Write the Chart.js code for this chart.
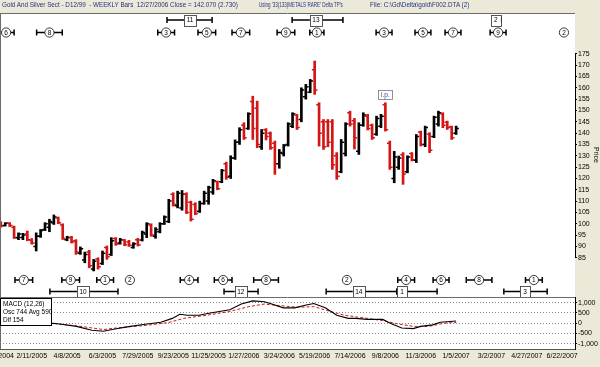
<!DOCTYPE html>
<html>
<head>
<meta charset="utf-8">
<script src="https://cdn.jsdelivr.net/npm/chart.js@4.4.1/dist/chart.umd.min.js"></script>
<style>
  html, body { margin: 0; padding: 0; background: #ECE9D8; }
  #wrap { position: relative; width: 600px; height: 367px; overflow: hidden; }
  #c { position: absolute; left: 0; top: 0; }
  .ttl { position: absolute; top: 1px; font: 6.3px "Liberation Sans", Arial, sans-serif; color: #22318a; white-space: pre; line-height: 8px; transform-origin: 0 0; }
  #macdBox { position: absolute; left: 0; top: 298px; width: 52px; height: 28px; box-sizing: border-box;
             background: #fff; border: 1px solid #000; padding: 1px 2px; font: 6.5px "Liberation Sans", Arial, sans-serif;
             line-height: 8px; color: #000; white-space: pre; }
</style>
</head>
<body>
<div id="wrap">
  <canvas id="c" width="600" height="367"></canvas>
  <div class="ttl" style="left:2px">Gold And Silver Sect - D12/99  - WEEKLY Bars  12/27/2006 Close = 142.070 (2.730)</div>
  <div class="ttl" style="left:259px; transform: scaleX(0.72)">Using '33(133)METALS RARE' Delta TP's</div>
  <div class="ttl" style="left:370px">File: C:\Gd\Delta\gold\F002.DTA (2)</div>
  <div id="macdBox">MACD (12,26)
Osc 744 Avg 590
Dif 154</div>
</div>
<script>
// date label every 8 bars
const dateLabels = ["12/17/2004","2/11/2005","4/8/2005","6/3/2005","7/29/2005","9/23/2005","11/25/2005",
  "1/27/2006","3/24/2006","5/19/2006","7/14/2006","9/8/2006","11/3/2006","1/5/2007","3/2/2007","4/27/2007","6/22/2007"];

// weekly bars
const opens  = [100.5,99.2,100.2,98.5,93.8,94,95.5,92.8,90,94.5,97.5,98.5,100.5,102.5,99.5,93,94,92.5,87,84,
  87.5,80,84.5,82.5,89.5,86.5,93.5,91.5,92.8,92,89.5,93,92.8,95.5,99.5,94.5,96.5,100,101,113,
  108,107,113,109.5,108.5,105.5,109,110,114,118.5,118.5,126.5,121,129,136,143.5,142,154,151,134,
  141.5,140,135.5,126.5,131,135,143,148,146,156,158,168,152.5,145,145,145,130,123,131,149,
  145.5,132,143.5,147.5,143.5,139.5,143,152.5,135.5,120,125,130.5,123,131,128,140.5,135,139.5,138.5,144,
  148.5,144.8,142.8,140];
const highs  = [100.9,100.5,100.5,99,96,95.8,96.8,93.5,96,97.5,100.5,102,103.9,103,100,94.5,94.5,93,89.8,87.5,
  88.3,84.3,85,88,90.2,93.9,93.9,93.6,93.1,92.7,91.7,93.6,96.8,100.5,100,98.3,100.5,103.5,110.8,113.7,
  114.4,114.7,113.7,110,109.3,110,114.4,116.6,119.6,118.9,124,127.2,130,137,142.4,144.6,149,156.3,154.1,141.6,
  142,140.5,136.5,132.8,135,144.6,149,148.3,160,161.5,163.7,171.8,153.4,146,146,146,131.4,137.2,144.6,149.7,
  146.5,144.6,149,148.3,144,147.5,148.3,153.4,136.5,132,129.9,131.4,130,131.4,139.4,140.9,143.1,140.2,147.5,149.7,
  149,145.3,143.1,143.1];
const lows   = [98.5,99,98.8,93.5,93,93,92.5,91,88,94,97,96.5,99.7,100,93.1,92.5,91.5,86.5,86.5,82.8,
  80.6,79.2,80,82,84.3,86,90.5,91,90.3,90,89.2,90.2,92.4,93.9,94.5,93.6,96,99.7,100.5,107.8,
  107,106,104.5,101.2,104,105,108.6,108.6,113,115,118.1,119.6,120,128.4,135,137.2,141.6,137.2,133.6,132.8,
  137,132.8,121.8,124.5,129.9,134.3,142.4,141.6,145,155,157.8,157.1,134.3,132.8,134,124,119.6,122.5,129.9,143.1,
  133,130.6,143,141.4,137.2,139,142.4,140.9,124,118.1,124,117.4,122.5,127.7,127,134.3,134,131.4,138,143.1,
  142.4,141.6,137.2,139.4];
const closes = [99,100.2,99.2,94,95.5,95,93,91.5,94.5,97,100,101,103,100.5,93.5,94,92,87.5,89,86.5,
  81.5,83.5,81,87,85.5,92.5,91,93,90.8,90.5,91.2,90.6,96.2,100,95,97.5,100,103,110,108.5,
  113.5,113,105,102,104.5,109,113.5,116,119,115.5,123.5,120.5,129,136,141.5,138,148.5,142,135,140,
  138.5,133.5,126.5,131.5,134.5,144,148.5,142.5,159,160.5,163,159,140,134,136,126,121,136,144,144,
  138,143.5,148,142,138,146.5,147.5,141.5,125,129.5,129,122,129.5,128.2,138.5,135,142.5,132.5,147,149,
  143.5,142.5,138,142.07];

// MACD (black) and its average (red dashed), bar slot / value
const macdSlots   = [9,12.9,14.7,18.1,21.6,24.2,26.8,30.3,33.7,37.2,39.8,41.5,43.2,45.8,48.4,52.8,55.4,58,60.6,62.3,
  64.9,67.5,70.1,71.8,74.4,77,79.6,81.3,83.9,87.4,89.1,91.7,94.3,96,98.7,100.4,104];
const macdValues  = [-80,0,-50,-155,-345,-390,-280,-155,-50,50,235,435,390,390,500,655,935,1090,1045,935,
  750,750,890,965,750,390,235,235,185,185,0,-235,-265,-155,-80,45,110];
const signalSlots  = [12,18.1,24.2,28.5,33.7,38.9,42.4,47.6,52.8,57.1,60.6,64,68.4,71.8,75.3,78.7,83.9,87.4,90.8,94.3,97.8,101.3,104];
const signalValues = [0,-125,-310,-200,-110,30,235,390,575,810,935,860,780,810,590,390,235,125,-30,-155,-155,0,40];

const priceTicks = [85,90,95,100,105,110,115,120,125,130,135,140,145,150,155,160,165,170,175];
const macdTicks  = [-1000,-500,0,500,1000];

// Delta turning points: label, centre slot, slots each side
const tpTopLabels  = ["6","8","3","5","7","9","1","3","5","7","9","2"];
const tpTopSlots   = [2.2,12,38.4,47.6,55.3,65.5,72.5,87.7,96.5,103.3,113.5,128.4];
const tpTopSpans   = [1.8,2.9,1.9,2,2,2,1.6,1.8,1.8,1.8,1.8,0];
const tpTopBoxLabels = ["11","13","2"];
const tpTopBoxSlots  = [43.8,72.3,113];
const tpTopBoxFrom   = [38.6,66.9,112.1];
const tpTopBoxTo     = [48.8,78.4,114.2];

const tpBotLabels  = ["7","9","1","2","4","6","8","2","4","6","8","1"];
const tpBotSlots   = [6.2,16.8,24.6,30.2,43.6,51.3,61,79.3,92.7,100.6,109.2,121.6];
const tpBotSpans   = [2,2,1.9,0,2,2,2.8,0,1.9,1.8,2.9,1.9];
const tpBotBoxLabels = ["10","12","14","1","3"];
const tpBotBoxSlots  = [19.6,55.3,82,91.8,119.6];
const tpBotBoxFrom   = [12.1,51.5,74.6,90.6,114.8];
const tpBotBoxTo     = [27.5,59.2,90.6,99.7,124.6];

const ipSlot = 88;

const FONT = '"Liberation Sans", Arial, sans-serif';
const RED = "#d41616";
const slots = opens.map((_, i) => i + 1);
const barColors = opens.map((o, i) => closes[i] >= o ? "#000" : RED);

const frame = {
  id: "frame",
  beforeDraw(chart) {
    const { ctx, chartArea: a } = chart;
    ctx.save();
    ctx.fillStyle = "#fff";
    ctx.fillRect(a.left, a.top, a.right - a.left, a.bottom - a.top);
    ctx.restore();
  },
  afterDraw(chart) {
    const { ctx, chartArea: a, scales: { y, y2 } } = chart;
    ctx.save();
    ctx.strokeStyle = "#6b6b6b";
    ctx.lineWidth = 1;
    ctx.beginPath();
    ctx.moveTo(a.left, a.top + 0.5); ctx.lineTo(a.right, a.top + 0.5);
    ctx.moveTo(a.left + 0.5, a.top); ctx.lineTo(a.left + 0.5, a.bottom);
    ctx.moveTo(a.left, Math.round(y2.top) + 0.5); ctx.lineTo(a.right, Math.round(y2.top) + 0.5);
    ctx.stroke();
    // price axis line only across the labelled range
    ctx.strokeStyle = "#000";
    ctx.beginPath();
    ctx.moveTo(Math.round(y.left) + 0.5, y.getPixelForValue(priceTicks[priceTicks.length - 1]));
    ctx.lineTo(Math.round(y.left) + 0.5, y.getPixelForValue(priceTicks[0]));
    ctx.stroke();
    ctx.restore();
  }
};

const ohlcTicks = {
  id: "ohlcTicks",
  afterDatasetsDraw(chart) {
    const { ctx, scales: { x, y } } = chart;
    ctx.save();
    ctx.lineWidth = 1.5;
    slots.forEach((s, i) => {
      const px = x.getPixelForValue(s);
      const yo = y.getPixelForValue(opens[i]);
      const yc = y.getPixelForValue(closes[i]);
      ctx.strokeStyle = barColors[i];
      ctx.beginPath();
      ctx.moveTo(px - 2.8, yo); ctx.lineTo(px, yo);
      ctx.moveTo(px, yc); ctx.lineTo(px + 2.8, yc);
      ctx.stroke();
    });
    ctx.restore();
  }
};

function whisker(ctx, x1, x2, yy) {
  ctx.beginPath();
  ctx.moveTo(x1, yy); ctx.lineTo(x2, yy);
  ctx.moveTo(x1, yy - 3); ctx.lineTo(x1, yy + 3);
  ctx.moveTo(x2, yy - 3); ctx.lineTo(x2, yy + 3);
  ctx.stroke();
}
function circleTP(ctx, cx, cy, label) {
  ctx.beginPath();
  ctx.arc(cx, cy, 4.6, 0, Math.PI * 2);
  ctx.fillStyle = "#fff"; ctx.fill();
  ctx.lineWidth = 0.9; ctx.strokeStyle = "#222"; ctx.stroke();
  ctx.fillStyle = "#000";
  ctx.fillText(label, cx, cy + 0.5);
}
function boxTP(ctx, cx, cy, label) {
  const w = Math.max(10, ctx.measureText(label).width + 5), h = 11;
  ctx.fillStyle = "#fff";
  ctx.fillRect(cx - w / 2, cy - h / 2, w, h);
  ctx.lineWidth = 0.9; ctx.strokeStyle = "#444";
  ctx.strokeRect(Math.round(cx - w / 2) + 0.5, Math.round(cy - h / 2) + 0.5, Math.round(w), h);
  ctx.fillStyle = "#000";
  ctx.fillText(label, cx, cy + 0.5);
}

const turningPoints = {
  id: "turningPoints",
  afterDatasetsDraw(chart) {
    const { ctx, scales: { x, y } } = chart;
    const topBox = y.top + 7, topCirc = y.top + 19.5;
    const botCirc = y.bottom - 17, botBox = y.bottom - 5.5;
    ctx.save();
    ctx.font = "6.5px " + FONT;
    ctx.textAlign = "center";
    ctx.textBaseline = "middle";
    const drawCircles = (labels, centers, spans, cy) => {
      labels.forEach((lab, i) => {
        ctx.strokeStyle = "#000"; ctx.lineWidth = 1.5;
        if (spans[i] > 0) whisker(ctx, x.getPixelForValue(centers[i] - spans[i]), x.getPixelForValue(centers[i] + spans[i]), cy);
        circleTP(ctx, x.getPixelForValue(centers[i]), cy, lab);
      });
    };
    const drawBoxes = (labels, centers, from, to, cy) => {
      labels.forEach((lab, i) => {
        ctx.strokeStyle = "#000"; ctx.lineWidth = 1.5;
        whisker(ctx, x.getPixelForValue(from[i]), x.getPixelForValue(to[i]), cy);
      });
      labels.forEach((lab, i) => boxTP(ctx, x.getPixelForValue(centers[i]), cy, lab));
    };
    drawBoxes(tpTopBoxLabels, tpTopBoxSlots, tpTopBoxFrom, tpTopBoxTo, topBox);
    drawCircles(tpTopLabels, tpTopSlots, tpTopSpans, topCirc);
    drawCircles(tpBotLabels, tpBotSlots, tpBotSpans, botCirc);
    drawBoxes(tpBotBoxLabels, tpBotBoxSlots, tpBotBoxFrom, tpBotBoxTo, botBox);

    // i.p. marker above its bar
    const ipx = x.getPixelForValue(ipSlot);
    const ipy = y.getPixelForValue(highs[ipSlot - 1]) - 8;
    ctx.fillStyle = "#fff";
    ctx.fillRect(ipx - 7, ipy - 4.5, 14, 9);
    ctx.lineWidth = 0.8; ctx.strokeStyle = "#777";
    ctx.strokeRect(Math.round(ipx - 7) + 0.5, Math.round(ipy - 4.5) + 0.5, 14, 9);
    ctx.fillStyle = "#2a3a9a";
    ctx.fillText("i.p.", ipx, ipy + 0.5);
    ctx.restore();
  }
};

const tickFont = { size: 7, family: FONT };

new Chart(document.getElementById("c"), {
  type: "bar",
  data: {
    datasets: [
      {
        type: "bar",
        data: slots.map((s, i) => ({ x: s, y: [lows[i], highs[i]] })),
        backgroundColor: barColors,
        barThickness: 2,
        grouped: false,
        xAxisID: "x",
        yAxisID: "y"
      },
      {
        type: "line",
        data: macdSlots.map((s, i) => ({ x: s, y: macdValues[i] })),
        borderColor: "#000",
        borderWidth: 1.1,
        pointRadius: 0,
        tension: 0,
        xAxisID: "x",
        yAxisID: "y2"
      },
      {
        type: "line",
        data: signalSlots.map((s, i) => ({ x: s, y: signalValues[i] })),
        borderColor: RED,
        borderDash: [3, 2],
        borderWidth: 1,
        pointRadius: 0,
        tension: 0,
        xAxisID: "x",
        yAxisID: "y2"
      }
    ]
  },
  options: {
    responsive: false,
    animation: false,
    devicePixelRatio: 1,
    layout: { padding: { top: 13, left: 0, right: 0, bottom: 0 } },
    plugins: { legend: { display: false }, tooltip: { enabled: false }, title: { display: false } },
    scales: {
      x: {
        type: "linear", min: 0.814, max: 130.9, offset: false,
        afterBuildTicks: s => { s.ticks = dateLabels.map((_, i) => ({ value: i * 8 })); },
        afterFit: s => { s.height = 18; s.paddingLeft = 0; s.paddingRight = 0; },
        grid: { display: false, drawTicks: false, tickLength: 0 },
        border: { display: true, color: "#555" },
        ticks: { autoSkip: false, maxRotation: 0, minRotation: 0, padding: 3, color: "#000", font: tickFont,
                 callback: (v, i) => dateLabels[i] }
      },
      y: {
        type: "linear", position: "right", stack: "panels", stackWeight: 284, min: 67.7, max: 193,
        afterBuildTicks: s => { s.ticks = priceTicks.map(v => ({ value: v })); },
        afterFit: s => { s.width = 25; s.paddingTop = 0; s.paddingBottom = 0; },
        grid: { drawOnChartArea: false, drawTicks: true, tickLength: 2, tickColor: "#000", tickWidth: 1 },
        border: { display: false },
        ticks: { autoSkip: false, padding: 1, color: "#000", font: tickFont },
        title: { display: true, text: "Price", color: "#000", font: tickFont, padding: 0 }
      },
      y2: {
        type: "linear", position: "right", stack: "panels", stackWeight: 52, min: -1260, max: 1280,
        afterBuildTicks: s => { s.ticks = macdTicks.map(v => ({ value: v })); },
        afterFit: s => { s.width = 25; s.paddingTop = 0; s.paddingBottom = 0; },
        grid: { drawOnChartArea: true, color: "#8a8a8a", lineWidth: 1, drawTicks: true, tickLength: 2, tickColor: "#000" },
        border: { display: true, color: "#000", width: 1, dash: [1, 2] },
        ticks: { autoSkip: false, padding: 1, color: "#000", font: tickFont, callback: v => v.toLocaleString("en-US") }
      }
    }
  },
  plugins: [frame, ohlcTicks, turningPoints]
});
</script>
</body>
</html>
